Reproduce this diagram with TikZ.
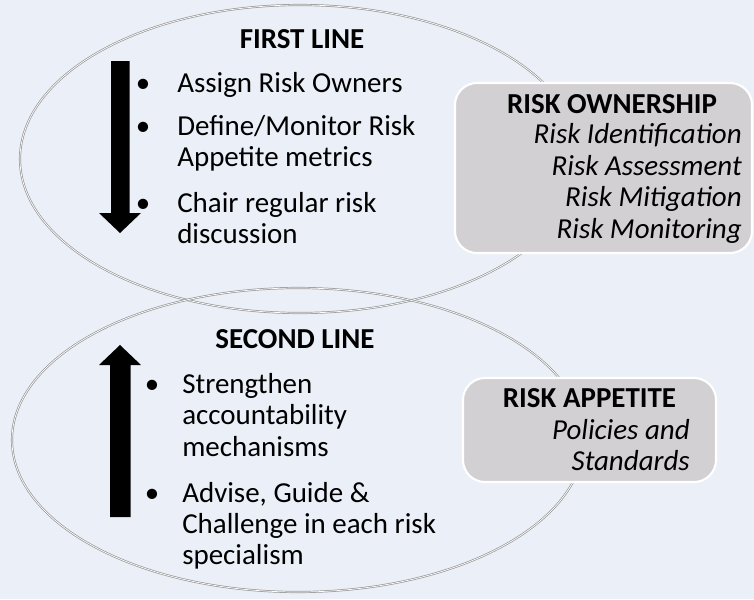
\documentclass[tikz,border=0pt]{standalone}
\usepackage{fontspec}
\setmainfont{Carlito}
\usetikzlibrary{shapes.geometric}
\definecolor{pagebg}{RGB}{235,240,248}
\definecolor{boxgray}{RGB}{210,208,210}
\definecolor{rimgray}{RGB}{150,150,150}

\begin{document}
\begin{tikzpicture}[
  txt/.style={font=\fontsize{20.6}{22.3}\selectfont,inner sep=0pt,align=left,anchor=base west},
  head/.style={font=\fontsize{20.6}{22.3}\selectfont\bfseries,inner sep=0pt,anchor=base},
  note/.style={font=\fontsize{20.6}{22.3}\selectfont\itshape,inner sep=0pt,align=right,anchor=base east},
  dot/.style={font=\fontsize{20.6}{22.3}\selectfont,inner sep=0pt,anchor=base},
  ring/.style={ellipse,draw=rimgray,line width=0.5pt,double=white,double distance=0.5pt,inner sep=0pt},
  tag/.style={draw=white,line width=1.5pt,fill=boxgray,rounded corners=0.55cm,inner sep=0pt}
]
% page
\fill[pagebg] (0,0) rectangle (18.85,-14.975);

% the two lines of defence
\node[ring,minimum width=14cm,minimum height=7.7cm] (first) at (7.5,-3.975) {};
\node[ring,minimum width=14.3cm,minimum height=7.6cm] (second) at (7.45,-11.0) {};

% direction arrows
\fill[black] (2.78,-1.525) -- (3.24,-1.525) -- (3.24,-5.325) -- (3.525,-5.325) -- (3.0,-5.825) -- (2.475,-5.325) -- (2.78,-5.325) -- cycle;
\fill[black] (2.75,-12.925) -- (3.265,-12.925) -- (3.265,-9.125) -- (3.525,-9.125) -- (3.0,-8.625) -- (2.475,-9.125) -- (2.75,-9.125) -- cycle;

% first line (multi-line texts sit on their last baseline)
\node[head] (fhead) at (7.55,-1.2) {FIRST LINE};
\node[dot] (fb1) at (3.575,-2.3) {\textbullet};
\node[txt] (fi1) at (4.425,-2.3) {Assign Risk Owners};
\node[dot] (fb2) at (3.575,-3.375) {\textbullet};
\node[txt] (fi2) at (4.425,-4.17) {Define/Monitor Risk\\Appetite metrics};
\node[dot] (fb3) at (3.575,-5.3) {\textbullet};
\node[txt] (fi3) at (4.425,-6.09) {Chair regular risk\\discussion};

% second line
\node[head] (shead) at (7.375,-8.7) {SECOND LINE};
\node[dot] (sb1) at (3.8,-9.825) {\textbullet};
\node[txt] (si1) at (4.55,-11.4) {Strengthen\\accountability\\mechanisms};
\node[dot] (sb2) at (3.8,-12.55) {\textbullet};
\node[txt] (si2) at (4.55,-14.12) {Advise, Guide \&\\Challenge in each risk\\specialism};

% side boxes
\node[tag,minimum width=7.425cm,minimum height=4.25cm] (own) at (15.0875,-4.2) {};
\node[head] (ownhead) at (15.3,-2.825) {RISK OWNERSHIP};
\node[note] (ownlist) at (18.55,-5.95) {Risk Identification\\Risk Assessment\\Risk Mitigation\\Risk Monitoring};

\node[tag,minimum width=6.325cm,minimum height=2.6cm] (app) at (14.7375,-10.75) {};
\node[head] (apphead) at (14.7375,-10.175) {RISK APPETITE};
\node[note] (applist) at (17.25,-11.76) {Policies and\\Standards};
\end{tikzpicture}
\end{document}
